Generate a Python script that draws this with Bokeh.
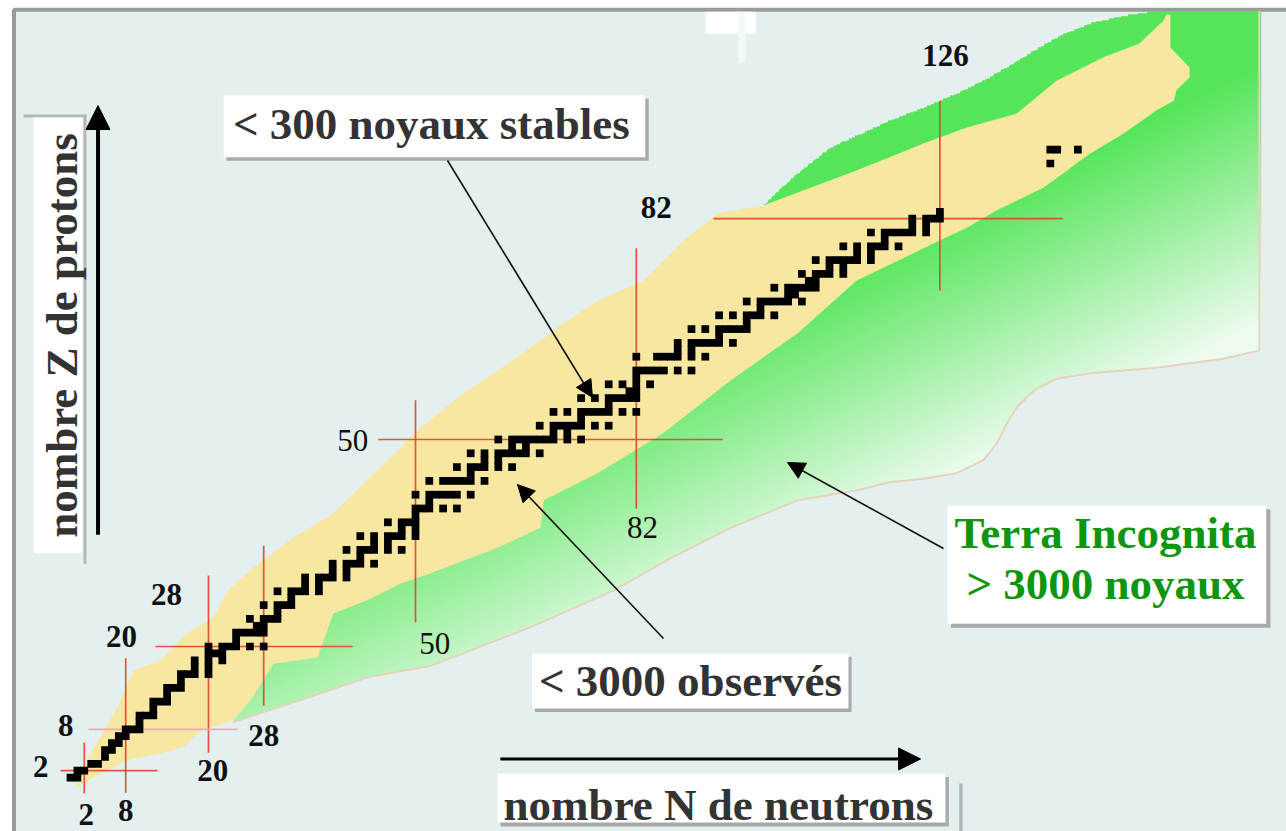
import numpy as np
from bokeh.plotting import figure
from bokeh.models import Range1d, Arrow, NormalHead
from bokeh.core.properties import value
from bokeh.embed import file_html
from bokeh.resources import INLINE

# ---------------- data ----------------
# stable (and long-lived primordial) nuclei : proton number Z and mass number A
stable_Z = [1, 1, 2, 2, 3, 3, 4, 5, 5, 6, 6, 7, 7, 8, 8, 8, 9, 10, 10, 10, 11, 12, 12, 12, 13,
            14, 14, 14, 15, 16, 16, 16, 16, 17, 17, 18, 18, 18, 19, 19, 19,
            20, 20, 20, 20, 20, 20, 21, 22, 22, 22, 22, 22, 23, 23, 24, 24, 24, 24, 25,
            26, 26, 26, 26, 27, 28, 28, 28, 28, 28, 29, 29, 30, 30, 30, 30, 30, 31, 31,
            32, 32, 32, 32, 32, 33, 34, 34, 34, 34, 34, 34, 35, 35, 36, 36, 36, 36, 36, 36,
            37, 37, 38, 38, 38, 38, 39, 40, 40, 40, 40, 40, 41, 42, 42, 42, 42, 42, 42, 42,
            44, 44, 44, 44, 44, 44, 44, 45, 46, 46, 46, 46, 46, 46, 47, 47,
            48, 48, 48, 48, 48, 48, 48, 48, 49, 49, 50, 50, 50, 50, 50, 50, 50, 50, 50, 50,
            51, 51, 52, 52, 52, 52, 52, 52, 52, 52, 53, 54, 54, 54, 54, 54, 54, 54, 54, 54,
            55, 56, 56, 56, 56, 56, 56, 56, 57, 57, 58, 58, 58, 58, 59,
            60, 60, 60, 60, 60, 60, 60, 62, 62, 62, 62, 62, 62, 62, 63, 63,
            64, 64, 64, 64, 64, 64, 64, 65, 66, 66, 66, 66, 66, 66, 66, 67,
            68, 68, 68, 68, 68, 68, 69, 70, 70, 70, 70, 70, 70, 70, 71, 71,
            72, 72, 72, 72, 72, 72, 73, 73, 74, 74, 74, 74, 74, 75, 75,
            76, 76, 76, 76, 76, 76, 76, 77, 77, 78, 78, 78, 78, 78, 78, 79,
            80, 80, 80, 80, 80, 80, 80, 81, 81, 82, 82, 82, 82, 83, 90, 92, 92, 92]
stable_A = [1, 2, 3, 4, 6, 7, 9, 10, 11, 12, 13, 14, 15, 16, 17, 18, 19, 20, 21, 22, 23, 24, 25, 26, 27,
            28, 29, 30, 31, 32, 33, 34, 36, 35, 37, 36, 38, 40, 39, 40, 41,
            40, 42, 43, 44, 46, 48, 45, 46, 47, 48, 49, 50, 50, 51, 50, 52, 53, 54, 55,
            54, 56, 57, 58, 59, 58, 60, 61, 62, 64, 63, 65, 64, 66, 67, 68, 70, 69, 71,
            70, 72, 73, 74, 76, 75, 74, 76, 77, 78, 80, 82, 79, 81, 78, 80, 82, 83, 84, 86,
            85, 87, 84, 86, 87, 88, 89, 90, 91, 92, 94, 96, 93, 92, 94, 95, 96, 97, 98, 100,
            96, 98, 99, 100, 101, 102, 104, 103, 102, 104, 105, 106, 108, 110, 107, 109,
            106, 108, 110, 111, 112, 113, 114, 116, 113, 115, 112, 114, 115, 116, 117, 118, 119, 120, 122, 124,
            121, 123, 120, 122, 123, 124, 125, 126, 128, 130, 127, 124, 126, 128, 129, 130, 131, 132, 134, 136,
            133, 130, 132, 134, 135, 136, 137, 138, 138, 139, 136, 138, 140, 142, 141,
            142, 143, 144, 145, 146, 148, 150, 144, 147, 148, 149, 150, 152, 154, 151, 153,
            152, 154, 155, 156, 157, 158, 160, 159, 156, 158, 160, 161, 162, 163, 164, 165,
            162, 164, 166, 167, 168, 170, 169, 168, 170, 171, 172, 173, 174, 176, 175, 176,
            174, 176, 177, 178, 179, 180, 180, 181, 180, 182, 183, 184, 186, 185, 187,
            184, 186, 187, 188, 189, 190, 192, 191, 193, 190, 192, 194, 195, 196, 198, 197,
            196, 198, 199, 200, 201, 202, 204, 203, 205, 204, 206, 207, 208, 209, 232, 234, 235, 238]
assert len(stable_Z) == len(stable_A)
stable_N = [a - z for a, z in zip(stable_A, stable_Z)]

# magic numbers (vertical lines at N, horizontal lines at Z)
magic_N = [2, 8, 20, 28, 50, 82, 126]
magic_Z = [2, 8, 20, 50, 82]

# outline of the observed nuclei (yellow band), in (N, Z)
observed_N = [0.7, 2.6, 6.8, 9.1, 13.0, 17.0, 20.7, 22.8, 26.5, 32.3, 38.1, 43.0, 47.8, 50.7, 57.0,
              61.9, 66.7, 71.4, 76.4, 83.0, 88.8, 93.8, 100.4, 113.9, 118.7, 123.6, 129.9, 137.1,
              142.9, 149.7, 154.9, 158.4, 158.8, 159.4, 159.4, 162.2, 162.2, 160.3, 159.9, 157.4,
              152.6, 147.7, 143.9, 141.0, 134.2, 129.9, 125.9, 113.9, 105.4, 95.7, 85.9, 76.4,
              68.6, 68.1, 61.9, 52.2, 47.8, 43.0, 38.1, 35.8, 29.4, 26.1, 23.6, 18.8, 16.4, 13.0,
              8.3, 4.3, 1.0]
observed_Z = [-0.4, 3.9, 11.2, 16.5, 18.0, 22.0, 24.2, 28.1, 31.4, 35.8, 39.3, 44.1, 48.8, 51.7, 56.7,
              60.0, 63.3, 66.8, 70.1, 73.0, 78.8, 82.8, 83.9, 89.0, 90.9, 92.9, 95.2, 97.2,
              102.0, 105.4, 107.4, 110.7, 111.6, 111.6, 106.8, 103.9, 102.5, 100.6, 99.1, 97.7,
              94.3, 91.4, 88.6, 86.5, 83.2, 80.7, 78.8, 73.0, 65.4, 58.6, 50.9, 45.1,
              41.2, 37.2, 34.3, 30.6, 29.1, 26.7, 24.8, 18.4, 17.5, 12.2, 9.3, 7.8, 5.4, 4.5,
              3.5, 1.6, -0.4]

# outline of the "terra incognita" (predicted nuclei) region, in (N, Z)
unknown_top_N = [101.0, 105.4, 110.1, 114.5, 118.7, 123.6, 128.4, 133.2, 138.1, 142.9, 147.7, 152.6, 157.4]
unknown_top_Z = [84.6, 88.6, 92.3, 94.3, 96.2, 98.1, 100.1, 102.5, 105.4, 108.3, 110.3, 111.4, 112.1]
unknown_low_N = [172.3, 172.3, 167.1, 157.4, 147.7, 142.9, 139.6, 137.1, 135.7, 134.2, 132.3, 128.4,
                 123.6, 118.7, 113.9, 105.4, 95.7, 87.0, 78.7, 66.7, 52.2, 43.0, 33.3, 28.6, 23.6]
unknown_low_Z = [112.1, 62.9, 61.7, 60.4, 59.6, 58.8, 57.1, 54.6, 52.3, 49.4, 47.0, 45.1,
                 44.3, 43.8, 42.6, 41.2, 37.2, 32.8, 28.1, 22.8, 17.2, 15.5, 12.2, 10.7, 9.0]
unknown_close_N = [24.6, 37.7, 50.7, 65.2, 82.6, 94.2]
unknown_close_Z = [15.1, 26.7, 38.3, 48.4, 60.0, 75.9]

label_text_bold = ["126", "82", "28", "20", "28", "20", "8", "2", "2", "8"]
label_N_bold = [126.8, 84.9, 13.9, 7.4, 28.0, 20.6, -0.7, -4.3, 2.3, 8.0]
label_Z_bold = [105.6, 83.6, 27.6, 21.5, 7.1, 2.0, 8.5, 2.6, -4.3, -3.7]
label_text_reg = ["50", "82", "50"]
label_N_reg = [40.9, 82.9, 52.8]
label_Z_reg = [49.8, 37.3, 20.4]

# ---------------- figure ----------------
p = figure(width=1286, height=831, output_backend="svg", toolbar_location=None,
           x_range=Range1d(-70 / 6.9, 1216 / 6.9), y_range=Range1d(-47 / 6.9, 784 / 6.9),
           x_axis_type=None, y_axis_type=None, min_border=0)
p.grid.visible = False
p.outline_line_color = None
p.background_fill_color = "white"
p.border_fill_color = "white"

# frame
p.quad(left=-8.19, right=185, bottom=-12, top=112.3, fill_color="#e4f0f0",
       line_color="#9a9a9a", line_width=4)
# small white artefacts at top
p.quad(left=92.0, right=99.3, bottom=108.8, top=112.0, fill_color="white", line_color=None)
p.quad(left=96.8, right=97.8, bottom=104.6, top=112.0, fill_color="#f3f8fb", line_color=None)

# green gradient region
poly_N = np.array(unknown_top_N + unknown_low_N + unknown_close_N, dtype=float)
poly_Z = np.array(unknown_top_Z + unknown_low_Z + unknown_close_Z, dtype=float)


def inside_poly(x, y, px, py):
    res = np.zeros(x.shape, dtype=bool)
    n = len(px)
    j = n - 1
    for i in range(n):
        xi, yi, xj, yj = px[i], py[i], px[j], py[j]
        dy = (yj - yi) if yj != yi else 1e-12
        cond = ((yi > y) != (yj > y)) & (x < (xj - xi) * (y - yi) / dy + xi)
        res ^= cond
        j = i
    return res


gN0, gN1, gZ0, gZ1 = 20.0, 173.0, 5.0, 112.5
res = 0.2
ns = np.arange(gN0, gN1, res) + res / 2
zs = np.arange(gZ0, gZ1, res) + res / 2
NN, ZZ = np.meshgrid(ns, zs)
mask = inside_poly(NN, ZZ, poly_N, poly_Z)
u = 819 + 3.45 * NN - 6.9 * ZZ
t = np.clip((u - 690) / 260.0, 0, 1)[..., None]
bright = np.array([84, 230, 88], dtype=float)
pale = np.array([236, 251, 238], dtype=float)
rgb = bright * (1 - t) + pale * t
img = np.zeros(NN.shape, dtype=np.uint32)
view = img.view(dtype=np.uint8).reshape(NN.shape + (4,))
view[..., 0] = rgb[..., 0].astype(np.uint8)
view[..., 1] = rgb[..., 1].astype(np.uint8)
view[..., 2] = rgb[..., 2].astype(np.uint8)
view[..., 3] = np.where(mask, 255, 0).astype(np.uint8)
p.image_rgba(image=[img], x=gN0, y=gZ0, dw=gN1 - gN0, dh=gZ1 - gZ0)
p.line(unknown_low_N, unknown_low_Z, line_color="#e6d3bc", line_width=2)

# observed nuclei band
p.patch(observed_N, observed_Z, fill_color="#f8e7a0", line_color=None)

# magic number lines
v_lo = [-1.3, -1.2, 4.6, 11.4, 23.5, 40.0, 71.6]
v_hi = [6.1, 18.3, 30.3, 34.6, 55.7, 77.7, 99.1]
p.segment(x0=magic_N, y0=v_lo, x1=magic_N, y1=v_hi, line_color="#e0432e", line_width=1.7, line_alpha=0.9)
h_lo = [-1.45, 2.6, 12.3, 44.6, 93.2]
h_hi = [12.6, 24.2, 40.9, 94.5, 143.8]
h_col = ["#e0432e", "#e9a3b3", "#e0432e", "#e0432e", "#e0432e"]
p.segment(x0=h_lo, y0=magic_Z, x1=h_hi, y1=magic_Z, line_color=h_col, line_width=1.7, line_alpha=0.9)

# stable nuclei
p.rect(x=stable_N, y=stable_Z, width=1.12, height=1.12, fill_color="black", line_color=None)

# magic number labels
p.text(x=label_N_bold, y=label_Z_bold, text=label_text_bold, text_font=value("Liberation Serif"),
       text_font_style="bold", text_font_size="31px", text_color="#111111",
       text_align="center", text_baseline="middle")
p.text(x=label_N_reg, y=label_Z_reg, text=label_text_reg, text_font=value("Liberation Serif"),
       text_font_size="31px", text_color="#111111", text_align="center", text_baseline="middle")

FONT = value("Liberation Serif")
SH = "#a9a9a9"

# box 1
p.quad(left=22.6, right=83.8, bottom=90.4, top=99.4, fill_color=SH, line_color=None)
p.quad(left=22.2, right=83.3, bottom=90.9, top=99.9, fill_color="white", line_color=None)
p.text(x=[52.3], y=[95.7], text=["< 300 noyaux stables"], text_font=FONT, text_font_style="bold",
       text_font_size="45px", text_color="#333333", text_align="center", text_baseline="middle")
# box 2
p.quad(left=67.3, right=113.2, bottom=10.5, top=18.5, fill_color=SH, line_color=None)
p.quad(left=66.9, right=112.75, bottom=11.0, top=19.0, fill_color="white", line_color=None)
p.text(x=[89.86], y=[15.07], text=["< 3000 observés"], text_font=FONT, text_font_style="bold",
       text_font_size="45px", text_color="#333333", text_align="center", text_baseline="middle")
# box 3
p.quad(left=127.6, right=173.9, bottom=22.7, top=39.9, fill_color=SH, line_color=None)
p.quad(left=127.1, right=173.3, bottom=23.3, top=40.4, fill_color="white", line_color=None)
p.text(x=[150.0, 150.0], y=[36.45, 28.99], text=["Terra Incognita", "> 3000 noyaux"], text_font=FONT,
       text_font_style="bold", text_font_size="45px", text_color="#0e960e",
       text_align="center", text_baseline="middle")
# box 4
p.quad(left=62.3, right=127.3, bottom=-6.1, top=1.1, fill_color=SH, line_color=None)
p.quad(left=61.9, right=126.8, bottom=-5.5, top=1.6, fill_color="white", line_color=None)
p.quad(left=128.8, right=129.3, bottom=-7.5, top=0.15, fill_color="#b5b5b5", line_color=None)
p.text(x=[93.9], y=[-3.0], text=["nombre N de neutrons"], text_font=FONT, text_font_style="bold",
       text_font_size="45px", text_color="#333333", text_align="center", text_baseline="middle")
# box 5 (vertical)
p.quad(left=-6.81, right=2.32, bottom=96.67, top=97.1, fill_color="#b5b5b5", line_color=None)
p.quad(left=1.88, right=2.32, bottom=32.0, top=97.1, fill_color="#b5b5b5", line_color=None)
p.quad(left=-5.36, right=1.74, bottom=33.5, top=96.67, fill_color="white", line_color=None)
p.text(x=[-1.3], y=[65.07], text=["nombre Z de protons"], text_font=FONT, text_font_style="bold",
       text_font_size="45px", text_color="#333333", text_align="center", text_baseline="middle",
       angle=np.pi / 2)

# axis arrows
p.add_layout(Arrow(end=NormalHead(size=24, fill_color="black", line_color="black"),
                   x_start=3.99, y_start=36.2, x_end=3.99, y_end=98.4, line_width=4, line_color="black"))
p.add_layout(Arrow(end=NormalHead(size=22, fill_color="black", line_color="black"),
                   x_start=62.3, y_start=3.7, x_end=123.2, y_end=3.7, line_width=3, line_color="black"))
# annotation arrows
for xs, ys, xe, ye in [(54.64, 90.43, 75.65, 56.09), (85.94, 21.16, 64.78, 43.48),
                       (126.52, 34.2, 103.91, 46.67)]:
    p.add_layout(Arrow(end=NormalHead(size=17, fill_color="black", line_color="black"),
                       x_start=xs, y_start=ys, x_end=xe, y_end=ye, line_width=1.6, line_color="#111111"))

open("out.html", "w").write(file_html(p, INLINE))
